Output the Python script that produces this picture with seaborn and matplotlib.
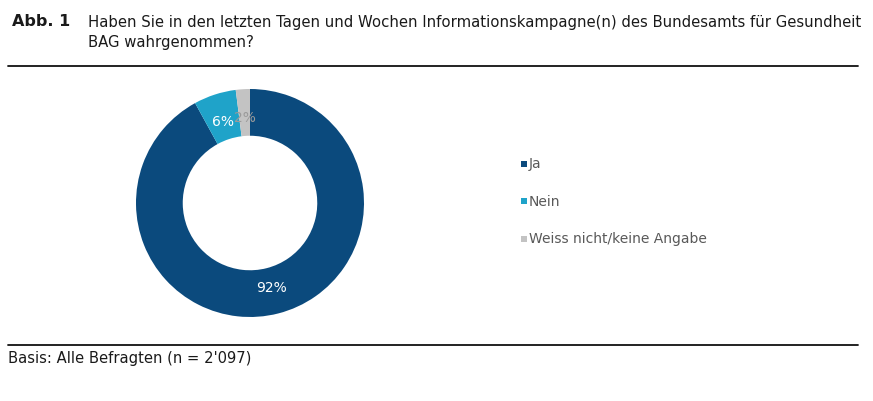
import matplotlib
matplotlib.use("Agg")
import matplotlib.pyplot as plt
import seaborn as sns
import numpy as np

categories = ["Ja", "Nein", "Weiss nicht/keine Angabe"]
values = [92, 6, 2]
labels = ["92%", "6%", "2%"]
colors = ["#0b4a7d", "#1fa3c9", "#c3c3c3"]
label_colors = ["white", "white", "#9a9a9a"]

sns.set_theme(style="white")
plt.rcParams['font.family'] = ['DejaVu Sans']

W, H = 873, 402
fig = plt.figure(figsize=(W / 100, H / 100), dpi=100)
fig.patch.set_facecolor("white")

cx, cy, r = 250, 204, 114
ax = fig.add_axes([(cx - r) / W, (H - cy - r) / H, 2 * r / W, 2 * r / H])
inner = 0.59
ax.pie(values, colors=colors, startangle=90, counterclock=False,
       radius=1.0, wedgeprops=dict(width=1 - inner, edgecolor="none"))
ang0 = 90.0
tot = sum(values)
lab_r = 0.76
for v, lab, lc in zip(values, labels, label_colors):
    span = 360.0 * v / tot
    mid = np.deg2rad(ang0 - span / 2)
    ax.text(lab_r * np.cos(mid), lab_r * np.sin(mid), lab, ha="center", va="center",
            color=lc, fontsize=10)
    ang0 -= span
ax.set_xlim(-1, 1)
ax.set_ylim(-1, 1)
ax.set_aspect("equal")
ax.axis("off")

# legend
for i, (cat, col) in enumerate(zip(categories, colors)):
    y = 164.5 + i * 37.5
    fig.patches.append(plt.Rectangle((521 / W, 1 - (y + 3) / H), 6 / W, 6 / H,
                                     transform=fig.transFigure, facecolor=col, edgecolor="none"))
    fig.text(529 / W, 1 - y / H, cat, ha="left", va="center", fontsize=10, color="#595959")

# title
fig.text(12 / W, 1 - 22 / H, "Abb. 1", ha="left", va="center", fontsize=11.5,
         fontweight="bold", color="#1a1a1a")
fig.text(88 / W, 1 - 22 / H, "Haben Sie in den letzten Tagen und Wochen Informationskampagne(n) des Bundesamts für Gesundheit",
         ha="left", va="center", fontsize=10.7, color="#1a1a1a")
fig.text(88 / W, 1 - 43 / H, "BAG wahrgenommen?", ha="left", va="center", fontsize=10.7, color="#1a1a1a")

# rules
fig.add_artist(plt.Line2D([8 / W, 858 / W], [1 - 67 / H, 1 - 67 / H], color="#111111", lw=1.3,
                          transform=fig.transFigure))
fig.add_artist(plt.Line2D([8 / W, 858 / W], [1 - 346 / H, 1 - 346 / H], color="#111111", lw=1.3,
                          transform=fig.transFigure))
fig.text(8 / W, 1 - 358 / H, "Basis: Alle Befragten (n = 2'097)", ha="left", va="center",
         fontsize=10.6, color="#1a1a1a")

fig.savefig("out.png", dpi=100, facecolor="white")
